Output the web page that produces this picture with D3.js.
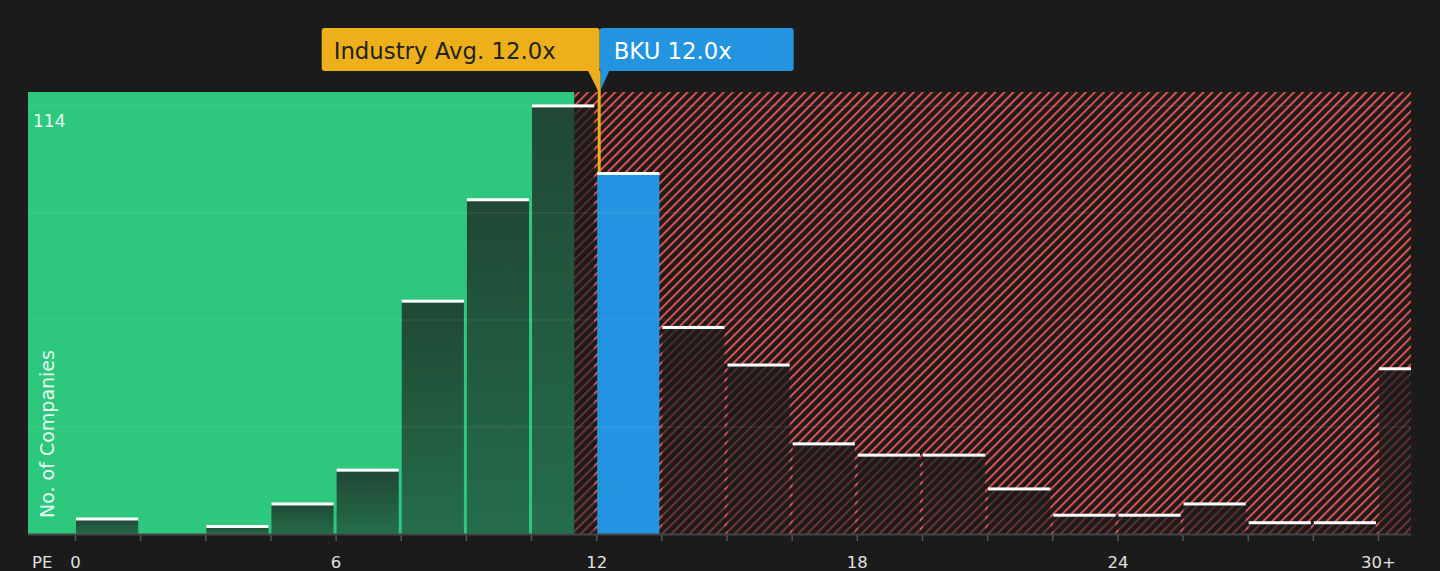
<!DOCTYPE html>
<html>
<head>
<meta charset="utf-8">
<script src="https://cdn.jsdelivr.net/npm/d3@7"></script>
<style>
  html, body { margin: 0; padding: 0; background: #1b1b1b; }
  svg { display: block; font-family: "DejaVu Sans", sans-serif; }
</style>
</head>
<body>
<svg id="chart" width="1440" height="571"></svg>
<script>
// ---- data ----
const binStarts = [0, 1.5, 3, 4.5, 6, 7.5, 9, 10.5, 12, 13.5, 15, 16.5, 18, 19.5, 21, 22.5, 24, 25.5, 27, 28.5, 30];
const counts    = [4, 0, 2, 8, 17, 62, 89, 114, 96, 55, 45, 24, 21, 21, 12, 5, 5, 8, 3, 3, 44];
const binWidth = 1.5;
const tickValues = [0, 6, 12, 18, 24, 30];
const tickLabels = ["0", "6", "12", "18", "24", "30+"];
const gridValues = [28.5, 57, 85.5, 114];
const yMaxLabel = 114;
const industryAvg = 12.0;
const companyPE = 12.0;
const companyName = "BKU";
const fairThreshold = 11.5;
const companyBin = 12;

// ---- layout ----
const plot = { left: 28, right: 1411, top: 92, bottom: 534 };
const svg = d3.select("#chart");

const x = d3.scaleLinear().domain([0, 30]).range([75, 1378]);
const y = d3.scaleLinear().domain([0, 117.7]).range([plot.bottom, plot.top]);

const defs = svg.append("defs");
const pat = defs.append("pattern")
  .attr("id", "hatch").attr("patternUnits", "userSpaceOnUse")
  .attr("width", 6.4).attr("height", 6.4)
  .attr("patternTransform", "rotate(45)");
pat.append("rect").attr("width", 6.4).attr("height", 6.4).attr("fill", "#1d1a1a");
pat.append("line").attr("x1", 1).attr("y1", 0).attr("x2", 1).attr("y2", 6.4)
  .attr("stroke", "#dc5350").attr("stroke-width", 2);

const grad = defs.append("linearGradient").attr("id", "barGrad")
  .attr("x1", 0).attr("y1", 0).attr("x2", 0).attr("y2", 1);
grad.append("stop").attr("offset", "0%").attr("stop-color", "#1b1b1b").attr("stop-opacity", 0.74);
grad.append("stop").attr("offset", "100%").attr("stop-color", "#1b1b1b").attr("stop-opacity", 0.52);

defs.append("clipPath").attr("id", "plotClip").append("rect")
  .attr("x", plot.left).attr("y", 0).attr("width", plot.right - plot.left).attr("height", plot.bottom);

const g = svg.append("g").attr("clip-path", "url(#plotClip)");

// regions
g.append("rect").attr("x", plot.left).attr("y", plot.top)
  .attr("width", x(fairThreshold) - plot.left).attr("height", plot.bottom - plot.top)
  .attr("fill", "#2ec77e");
g.append("rect").attr("x", x(fairThreshold)).attr("y", plot.top)
  .attr("width", plot.right - x(fairThreshold)).attr("height", plot.bottom - plot.top)
  .attr("fill", "url(#hatch)");

const data = binStarts.map((s, i) => ({ start: s, count: counts[i] }));
const bars = data.filter(d => d.count > 0);

// bars
g.selectAll("rect.bar").data(bars).enter().append("rect")
  .attr("class", "bar")
  .attr("x", d => x(d.start) + 1)
  .attr("width", d => x(d.start + binWidth) - x(d.start) - 3)
  .attr("y", d => y(d.count))
  .attr("height", d => plot.bottom - y(d.count))
  .attr("fill", d => d.start === companyBin ? "#2394df" : "url(#barGrad)");

// gridlines
g.selectAll("line.grid").data(gridValues).enter().append("line")
  .attr("x1", plot.left).attr("x2", plot.right)
  .attr("y1", d => y(d)).attr("y2", d => y(d))
  .attr("stroke", "#ffffff").attr("stroke-opacity", 0.1).attr("stroke-width", 1);

// white top lines
g.selectAll("rect.cap").data(bars).enter().append("rect")
  .attr("x", d => x(d.start) + 1)
  .attr("width", d => x(d.start + binWidth) - x(d.start) - 3)
  .attr("y", d => y(d.count) - 1.5)
  .attr("height", 3)
  .attr("fill", "#ffffff");

// y max label
svg.append("text").attr("x", 33).attr("y", 127)
  .attr("fill", "#ffffff").attr("fill-opacity", 0.92)
  .attr("font-size", 17).text(yMaxLabel);

// y axis title
svg.append("text")
  .attr("transform", "translate(54,518) rotate(-90)")
  .attr("fill", "#ffffff").attr("fill-opacity", 0.9)
  .attr("font-size", 19).text("No. of Companies");

// x axis
const axis = d3.axisBottom(x).tickValues(binStarts).tickSize(7)
  .tickFormat(d => { const i = tickValues.indexOf(d); return i >= 0 ? tickLabels[i] : ""; });
const ax = svg.append("g").attr("transform", `translate(0,${plot.bottom})`).call(axis);
ax.select(".domain").remove();
ax.selectAll(".tick line").attr("stroke", "#555").attr("stroke-width", 1.5);
ax.selectAll(".tick text").attr("y", 34).attr("dy", 0)
  .attr("fill", "#e0e0e0").attr("font-size", 16.5).attr("font-family", "DejaVu Sans, sans-serif");
svg.append("line").attr("x1", plot.left).attr("x2", plot.right)
  .attr("y1", plot.bottom + 0.5).attr("y2", plot.bottom + 0.5)
  .attr("stroke", "#444").attr("stroke-width", 2);
svg.append("text").attr("x", 32).attr("y", 568)
  .attr("fill", "#e0e0e0").attr("font-size", 16.5).text("PE");

// annotation
const lx = x(industryAvg) + 3.5;
const boxTop = 28, boxH = 43;
svg.append("line").attr("x1", lx - 0.5).attr("x2", lx - 0.5)
  .attr("y1", boxTop + boxH).attr("y2", y(counts[binStarts.indexOf(companyBin)]) - 1.5)
  .attr("stroke", "#edb01a").attr("stroke-width", 3);
svg.append("rect").attr("x", lx - 278).attr("y", boxTop).attr("width", 278).attr("height", boxH)
  .attr("rx", 3).attr("fill", "#edb01a");
svg.append("path")
  .attr("d", `M${lx - 12},${boxTop + boxH - 1} L${lx},${boxTop + boxH - 1} L${lx - 1},${plot.top} Z`)
  .attr("fill", "#edb01a");
svg.append("rect").attr("x", lx).attr("y", boxTop).attr("width", 194).attr("height", boxH)
  .attr("rx", 3).attr("fill", "#2394df");
svg.append("path")
  .attr("d", `M${lx + 1},${boxTop + boxH - 1} L${lx + 10},${boxTop + boxH - 1} L${lx + 1},${plot.top - 2} Z`)
  .attr("fill", "#2394df");
svg.append("text").attr("x", lx - 278 + 12).attr("y", 58.5)
  .attr("fill", "#222").attr("font-size", 22.8)
  .text(`Industry Avg. ${industryAvg.toFixed(1)}x`);
svg.append("text").attr("x", lx + 14).attr("y", 58.5)
  .attr("fill", "#ffffff").attr("font-size", 22.8)
  .text(`${companyName} ${companyPE.toFixed(1)}x`);
</script>
</body>
</html>
